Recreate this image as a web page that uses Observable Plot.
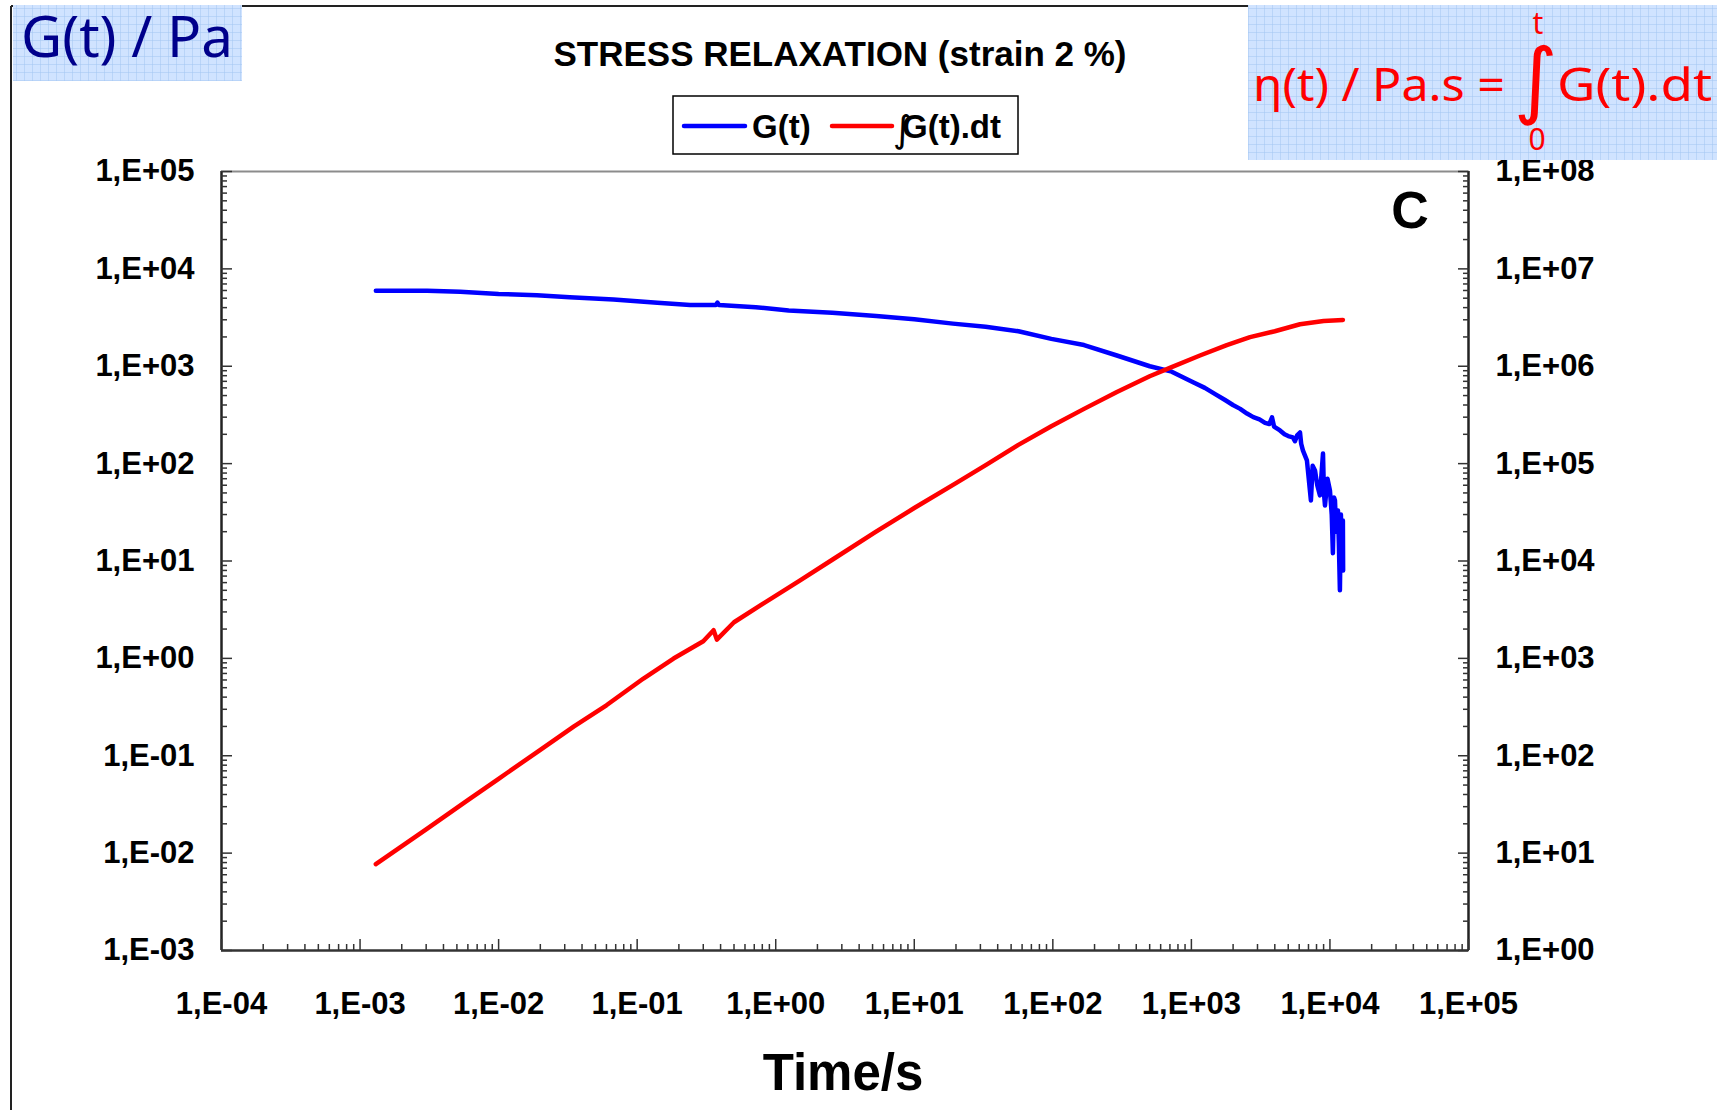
<!DOCTYPE html>
<html>
<head>
<meta charset="utf-8">
<script src="https://cdn.jsdelivr.net/npm/d3@7"></script>
<script src="https://cdn.jsdelivr.net/npm/@observablehq/plot@0.6"></script>
<style>
html, body { margin: 0; padding: 0; background: #fff; }
#wrap { position: relative; width: 1717px; height: 1110px; overflow: hidden; }
#chart { position: absolute; left: 0; top: 0; }
#overlay { position: absolute; left: 0; top: 0; pointer-events: none; }
</style>
</head>
<body>
<div id="wrap">
  <div id="chart"></div>
  <svg id="overlay" width="1717" height="1110" xmlns="http://www.w3.org/2000/svg" font-family="Liberation Sans, Arial, sans-serif">
    <defs>
      <pattern id="grid" width="8" height="8" patternUnits="userSpaceOnUse">
        <rect width="8" height="8" fill="#d0e3ff"/>
        <path d="M8 0H0V8" fill="none" stroke="#a2c6f2" stroke-width="1"/>
      </pattern>
    </defs>
    <line x1="11" y1="6" x2="1717" y2="6" stroke="#222" stroke-width="2"/>
    <line x1="11" y1="6" x2="11" y2="1110" stroke="#222" stroke-width="2"/>

    <rect x="13" y="5" width="229" height="76" fill="url(#grid)"/>
    <text x="21" y="57" font-family="Comic Sans MS, Noto Sans, sans-serif" font-size="56" fill="#00008b" textLength="212" lengthAdjust="spacingAndGlyphs">G(t) / Pa</text>

    <rect x="1248" y="5" width="469" height="155" fill="url(#grid)"/>
    <text x="1253" y="101" font-family="Comic Sans MS, Noto Sans, sans-serif" font-size="46" fill="#ff0000" textLength="252" lengthAdjust="spacingAndGlyphs">η(t) / Pa.s =</text>
    <text x="1536" y="108" text-anchor="middle" font-family="DejaVu Sans, sans-serif" font-size="84" fill="#ff0000">∫</text>
    <text x="1538" y="34" text-anchor="middle" font-family="Comic Sans MS, Noto Sans, sans-serif" font-size="30" fill="#ff0000">t</text>
    <text x="1537" y="150" text-anchor="middle" font-family="Comic Sans MS, Noto Sans, sans-serif" font-size="30" fill="#ff0000">0</text>
    <text x="1557" y="101" font-family="Comic Sans MS, Noto Sans, sans-serif" font-size="46" fill="#ff0000" textLength="155" lengthAdjust="spacingAndGlyphs">G(t).dt</text>

    <text x="840" y="66" text-anchor="middle" font-size="35" font-weight="bold" fill="#000">STRESS RELAXATION (strain 2 %)</text>

    <rect x="673" y="96" width="345" height="58" fill="#fff" stroke="#000" stroke-width="1.5"/>
    <line x1="684" y1="126" x2="745" y2="126" stroke="#0000ff" stroke-width="4.5" stroke-linecap="round"/>
    <text x="752" y="138" font-size="33" font-weight="bold" fill="#000">G(t)</text>
    <line x1="832" y1="126" x2="892" y2="126" stroke="#ff0000" stroke-width="4.5" stroke-linecap="round"/>
    <text x="893" y="142" font-family="DejaVu Sans, sans-serif" font-size="37" fill="#000">∫</text>
    <text x="902" y="138" font-size="33" font-weight="bold" fill="#000">G(t).dt</text>

    <text x="1410" y="228" text-anchor="middle" font-size="52" font-weight="bold" fill="#000">C</text>
    <text x="843" y="1090" text-anchor="middle" font-size="51" font-weight="bold" fill="#000">Time/s</text>
  </svg>
</div>
<script>
// ---- data ----
const timeG = [0.0013, 0.00305, 0.00528, 0.0100, 0.0189, 0.0326, 0.0675, 0.140, 0.241, 0.370, 0.380, 0.390, 0.718, 1.24, 2.56, 5.31, 10.0, 19.0, 32.7, 56.5, 97.5, 168, 290, 501, 721, 1038, 1250, 1495, 1750, 1995, 2250, 2520, 2800, 3100, 3400, 3650, 3820, 3950, 4360, 4700, 5000, 5400, 5590, 5800, 6080, 6200, 6380, 6820, 7290, 7500, 7800, 8100, 8470, 8700, 8910, 9050, 9210, 9600, 10000, 10300, 10500, 10700, 10870, 11100, 11420, 11600, 11800, 12000, 12200, 12400, 12450];
const G = [5960, 5960, 5810, 5520, 5370, 5100, 4840, 4480, 4260, 4260, 4500, 4260, 4040, 3740, 3550, 3290, 3040, 2740, 2540, 2290, 1910, 1650, 1290, 1000, 880, 680, 600, 515, 450, 400, 365, 327, 300, 285, 262, 255, 298, 240, 219, 200, 192, 186, 170, 195, 209, 160, 137, 108, 41.9, 95, 85.1, 60, 47.2, 80, 127, 50, 37.2, 70, 53.1, 30, 12.0, 45, 41.9, 20, 33.1, 15, 5.0, 30, 10, 26.1, 8.0];

const timeEta = [0.0013, 0.003, 0.006, 0.01, 0.02, 0.035, 0.06, 0.111, 0.183, 0.30, 0.356, 0.376, 0.5, 0.8, 1.5, 2.56, 5.3, 10, 20, 33, 56, 97.5, 168, 290, 500, 720, 1153, 1800, 2650, 4000, 6080, 9000, 12400];
const eta = [7.7, 17.5, 35, 58, 115, 200, 330, 621, 996, 1500, 1945, 1560, 2350, 3600, 6330, 10300, 20000, 35000, 63000, 97000, 155000, 242000, 365000, 545000, 790000, 980000, 1290000, 1650000, 1990000, 2290000, 2700000, 2920000, 2990000];

const xTicks = [1e-4, 1e-3, 1e-2, 1e-1, 1e0, 1e1, 1e2, 1e3, 1e4, 1e5];
const yLeftTicks = [1e-3, 1e-2, 1e-1, 1e0, 1e1, 1e2, 1e3, 1e4, 1e5];
const yRightTicks = [1e0, 1e1, 1e2, 1e3, 1e4, 1e5, 1e6, 1e7, 1e8];
const RIGHT_FACTOR = yRightTicks[0] / yLeftTicks[0];

// ---- helpers ----
const fmt = v => { const p = Math.round(Math.log10(v)); return "1,E" + (p < 0 ? "-" : "+") + String(Math.abs(p)).padStart(2, "0"); };
const minorOf = ticks => ticks.slice(0, -1).flatMap(t => [2, 3, 4, 5, 6, 7, 8, 9].map(k => k * t));

const gData = timeG.map((t, i) => ({t, v: G[i]}));
const eData = timeEta.map((t, i) => ({t, v: eta[i] / RIGHT_FACTOR}));

const tickStyle = {fill: "none", label: null, stroke: "#333", strokeWidth: 1.5};

const chart = Plot.plot({
  width: 1717,
  height: 1110,
  marginLeft: 221,
  marginRight: 249,
  marginTop: 171,
  marginBottom: 160,
  x: {type: "log", domain: [xTicks[0], xTicks[xTicks.length - 1]]},
  y: {type: "log", domain: [yLeftTicks[0], yLeftTicks[yLeftTicks.length - 1]]},
  style: {fontFamily: "Liberation Sans, Arial, sans-serif", fontSize: "31px", fontWeight: "bold", color: "#000", background: "transparent", overflow: "visible"},
  marks: [
    Plot.line(gData, {x: "t", y: "v", stroke: "#0000ff", strokeWidth: 4.5, strokeLinejoin: "round", strokeLinecap: "round"}),
    Plot.line(eData, {x: "t", y: "v", stroke: "#ff0000", strokeWidth: 4.5, strokeLinejoin: "round", strokeLinecap: "round"}),
    Plot.ruleY([yLeftTicks[yLeftTicks.length - 1]], {stroke: "#8c8c8c", strokeWidth: 2}),
    Plot.ruleX([xTicks[0]], {stroke: "#222", strokeWidth: 2.5}),
    Plot.ruleX([xTicks[xTicks.length - 1]], {stroke: "#222", strokeWidth: 2.5}),
    Plot.ruleY([yLeftTicks[0]], {stroke: "#333", strokeWidth: 2.5}),
    Plot.axisX({ticks: xTicks, tickSize: 0, tickPadding: 41, tickFormat: fmt, label: null, fontWeight: "bold"}),
    Plot.axisX({ticks: xTicks, tickSize: -11, ...tickStyle}),
    Plot.axisX({ticks: minorOf(xTicks), tickSize: -6, ...tickStyle}),
    Plot.axisY({ticks: yLeftTicks, anchor: "left", tickSize: 0, tickPadding: 27, tickFormat: fmt, label: null, fontWeight: "bold"}),
    Plot.axisY({ticks: yLeftTicks, anchor: "left", tickSize: -11, ...tickStyle}),
    Plot.axisY({ticks: minorOf(yLeftTicks), anchor: "left", tickSize: -6, ...tickStyle}),
    Plot.axisY({ticks: yLeftTicks, anchor: "right", tickSize: 0, tickPadding: 27, tickFormat: d => fmt(d * RIGHT_FACTOR), label: null, fontWeight: "bold"}),
    Plot.axisY({ticks: yLeftTicks, anchor: "right", tickSize: -11, ...tickStyle}),
    Plot.axisY({ticks: minorOf(yLeftTicks), anchor: "right", tickSize: -6, ...tickStyle})
  ]
});
document.getElementById("chart").appendChild(chart);
</script>
</body>
</html>
